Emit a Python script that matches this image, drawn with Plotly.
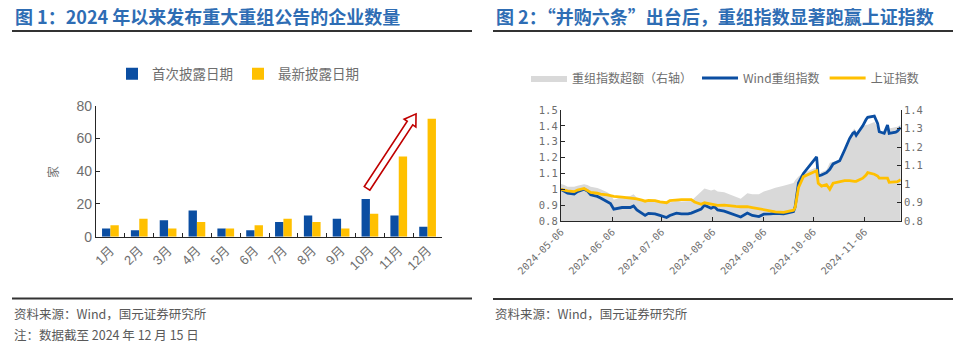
import math
import plotly.graph_objects as go

W, H = 954, 357

# ---------------- data: chart 1 ----------------
months = ["1月", "2月", "3月", "4月", "5月", "6月", "7月", "8月", "9月", "10月", "11月", "12月"]
first_disclosure = [5, 4, 10, 16, 5, 4, 9, 13, 11, 23, 13, 6]
latest_disclosure = [7, 11, 5, 9, 5, 7, 11, 9, 5, 14, 49, 72]

# ---------------- data: chart 2 ----------------
dates = [
    "2024-05-06", "2024-05-08", "2024-05-10", "2024-05-14", "2024-05-16", "2024-05-20",
    "2024-05-22", "2024-05-24", "2024-05-28", "2024-05-30", "2024-06-03", "2024-06-05",
    "2024-06-07", "2024-06-12", "2024-06-17", "2024-06-19", "2024-06-21", "2024-06-24",
    "2024-06-26", "2024-06-28", "2024-07-02", "2024-07-05", "2024-07-09", "2024-07-11",
    "2024-07-15", "2024-07-18", "2024-07-22", "2024-07-24", "2024-07-26", "2024-07-30",
    "2024-08-01", "2024-08-05", "2024-08-07", "2024-08-09", "2024-08-13", "2024-08-16",
    "2024-08-20", "2024-08-23", "2024-08-27", "2024-08-30", "2024-09-03", "2024-09-06",
    "2024-09-10", "2024-09-13", "2024-09-18", "2024-09-20", "2024-09-24", "2024-09-25",
    "2024-09-26", "2024-09-27", "2024-09-30", "2024-10-08", "2024-10-09", "2024-10-11",
    "2024-10-14", "2024-10-16", "2024-10-18", "2024-10-22", "2024-10-25", "2024-10-28",
    "2024-10-30", "2024-10-31", "2024-11-01", "2024-11-05", "2024-11-07", "2024-11-08",
    "2024-11-12", "2024-11-14", "2024-11-15", "2024-11-18", "2024-11-20", "2024-11-21",
    "2024-11-25", "2024-11-26", "2024-11-28",
]
wind_restructure = [
    1.000, 0.990, 0.975, 0.970, 0.985, 1.000,
    0.990, 0.965, 0.955, 0.945, 0.925, 0.910,
    0.875, 0.885, 0.885, 0.895, 0.870, 0.850,
    0.835, 0.848, 0.845, 0.835, 0.822, 0.835,
    0.850, 0.845, 0.845, 0.850, 0.858, 0.875,
    0.900, 0.880, 0.890, 0.870, 0.862, 0.850,
    0.835, 0.825, 0.850, 0.835, 0.828, 0.843,
    0.845, 0.848, 0.845, 0.850, 0.860, 0.890,
    0.975, 1.040, 1.100, 1.205, 1.084, 1.090,
    1.105, 1.126, 1.160, 1.180, 1.248, 1.320,
    1.353, 1.360, 1.340, 1.400, 1.440, 1.454,
    1.462, 1.416, 1.363, 1.353, 1.405, 1.353,
    1.360, 1.366, 1.390,
]
sse_index = [
    1.000, 0.995, 0.990, 0.985, 0.995, 1.005,
    0.995, 0.980, 0.975, 0.970, 0.965, 0.960,
    0.955, 0.950, 0.945, 0.945, 0.940, 0.932,
    0.925, 0.930, 0.928, 0.920, 0.915, 0.928,
    0.933, 0.935, 0.935, 0.935, 0.920, 0.905,
    0.915, 0.905, 0.900, 0.898, 0.900, 0.895,
    0.892, 0.890, 0.890, 0.885, 0.878, 0.870,
    0.862, 0.858, 0.855, 0.858, 0.868, 0.885,
    0.955, 1.010, 1.080, 1.117, 1.038, 1.020,
    1.030, 1.000, 1.038, 1.050, 1.055, 1.055,
    1.050, 1.050, 1.050, 1.070, 1.090, 1.105,
    1.095, 1.084, 1.070, 1.070, 1.070, 1.044,
    1.044, 1.048, 1.060,
]
excess_ratio = [
    1.000, 0.995, 0.985, 0.985, 0.990, 0.998,
    0.995, 0.985, 0.978, 0.972, 0.955, 0.945,
    0.915, 0.930, 0.935, 0.945, 0.925, 0.910,
    0.905, 0.912, 0.910, 0.905, 0.898, 0.900,
    0.910, 0.905, 0.905, 0.908, 0.925, 0.955,
    0.975, 0.965, 0.970, 0.960, 0.955, 0.945,
    0.930, 0.920, 0.950, 0.945, 0.945, 0.960,
    0.970, 0.980, 0.990, 0.995, 1.005, 1.020,
    1.030, 1.040, 1.060, 1.090, 1.050, 1.065,
    1.075, 1.115, 1.120, 1.130, 1.185, 1.250,
    1.290, 1.300, 1.280, 1.310, 1.320, 1.320,
    1.335, 1.310, 1.280, 1.275, 1.315, 1.300,
    1.305, 1.310, 1.320,
]
date_ticks = ["2024-05-06", "2024-06-06", "2024-07-06", "2024-08-06",
              "2024-09-06", "2024-10-06", "2024-11-06"]

# ---------------- styling ----------------
BLUE = "#0B4EA2"
YELLOW = "#FFC000"
GREY_FILL = "#D9D9D9"
AXIS = "#262626"
TXT = "#6E6E6E"
TITLE = "#2E6DB4"
CJK = "Noto Sans CJK SC"
MONO = "DejaVu Sans Mono"

# plot-area pixel boxes
L_X0, L_X1, L_TOP, L_BOT = 96, 442, 105.7, 236.7
R_X0, R_X1, R_TOP, R_BOT = 561, 900.7, 110, 221


def xdom(a, b):
    return [a / W, b / W]


def ydom(top, bot):
    return [1 - bot / H, 1 - top / H]


fig = go.Figure()

fig.add_trace(go.Bar(x=months, y=first_disclosure, name="首次披露日期",
                     marker=dict(color=BLUE, line=dict(width=0)),
                     xaxis="x", yaxis="y", legend="legend"))
fig.add_trace(go.Bar(x=months, y=latest_disclosure, name="最新披露日期",
                     marker=dict(color=YELLOW, line=dict(width=0)),
                     xaxis="x", yaxis="y", legend="legend"))

fig.add_trace(go.Scatter(x=dates, y=excess_ratio, name="重组指数超额（右轴）",
                         mode="lines", line=dict(width=0, color=GREY_FILL),
                         fill="tozeroy", fillcolor=GREY_FILL,
                         xaxis="x2", yaxis="y2", legend="legend2"))
fig.add_trace(go.Scatter(x=dates, y=wind_restructure, name="Wind重组指数",
                         mode="lines", line=dict(width=2.8, color=BLUE),
                         xaxis="x2", yaxis="y3", legend="legend2"))
fig.add_trace(go.Scatter(x=dates, y=sse_index, name="上证指数",
                         mode="lines", line=dict(width=2.8, color=YELLOW),
                         xaxis="x2", yaxis="y3", legend="legend2"))

axis_common = dict(showline=True, linecolor=AXIS, linewidth=1.3, ticks="inside",
                   ticklen=4, tickcolor=AXIS, showgrid=False, zeroline=False,
                   automargin=False)

fig.update_layout(
    width=W, height=H, autosize=False,
    margin=dict(l=0, r=0, t=0, b=0, pad=0, autoexpand=False),
    paper_bgcolor="white", plot_bgcolor="rgba(0,0,0,0)",
    font=dict(family=CJK, color=TXT),
    barmode="group", bargap=0.42, bargroupgap=0,
    showlegend=True,
    xaxis=dict(domain=xdom(L_X0, L_X1), anchor="y", type="category",
               tickson="boundaries", tickangle=-45,
               tickfont=dict(family="Liberation Sans, " + CJK, size=13, color=TXT),
               **axis_common),
    yaxis=dict(domain=ydom(L_TOP, L_BOT), anchor="x", range=[0, 80], dtick=20,
               tickfont=dict(family="Liberation Sans", size=14, color=TXT),
               **axis_common),
    xaxis2=dict(domain=xdom(R_X0, R_X1), anchor="y2", type="date",
                range=[dates[0], dates[-1]], tickvals=date_ticks, ticktext=date_ticks,
                tickangle=-45, tickfont=dict(family=MONO, size=10, color=TXT),
                **axis_common),
    yaxis2=dict(domain=ydom(R_TOP, R_BOT), anchor="x2", side="right",
                range=[0.8, 1.4], dtick=0.1,
                tickfont=dict(family=MONO, size=10.5, color=TXT), **axis_common),
    yaxis3=dict(overlaying="y2", anchor="x2", side="left",
                range=[0.8, 1.5], dtick=0.1,
                tickfont=dict(family=MONO, size=10.5, color=TXT), **axis_common),
    legend=dict(orientation="h", x=238 / W, y=1 - 74 / H, xanchor="center",
                yanchor="middle", font=dict(family=CJK, size=13.5, color=TXT),
                bgcolor="rgba(0,0,0,0)", itemwidth=30),
    legend2=dict(orientation="h", x=725 / W, y=1 - 78 / H, xanchor="center",
                 yanchor="middle", font=dict(family=CJK, size=12, color=TXT),
                 bgcolor="rgba(0,0,0,0)", itemwidth=36),
)

# ---------------- titles, notes, rules ----------------
ann = []
ann.append(dict(text="<b>图 1：2024 年以来发布重大重组公告的企业数量</b>", x=13 / W, y=1 - 16 / H,
                xref="paper", yref="paper", xanchor="left", yanchor="middle", showarrow=False,
                font=dict(family=CJK, size=18, color=TITLE)))
ann.append(dict(text="<b>图 2：“并购六条”出台后，重组指数显著跑赢上证指数</b>", x=494 / W, y=1 - 16 / H,
                xref="paper", yref="paper", xanchor="left", yanchor="middle", showarrow=False,
                font=dict(family=CJK, size=18, color=TITLE)))
ann.append(dict(text="资料来源：Wind，国元证券研究所", x=12 / W, y=1 - 313 / H,
                xref="paper", yref="paper", xanchor="left", yanchor="middle", showarrow=False,
                font=dict(family=CJK, size=12.5, color="#595959")))
ann.append(dict(text="注：数据截至 2024 年 12 月 15 日", x=12 / W, y=1 - 334 / H,
                xref="paper", yref="paper", xanchor="left", yanchor="middle", showarrow=False,
                font=dict(family=CJK, size=12.5, color="#595959")))
ann.append(dict(text="资料来源：Wind，国元证券研究所", x=493 / W, y=1 - 313 / H,
                xref="paper", yref="paper", xanchor="left", yanchor="middle", showarrow=False,
                font=dict(family=CJK, size=12.5, color="#595959")))
ann.append(dict(text="家", x=52 / W, y=1 - 172 / H, textangle=-90,
                xref="paper", yref="paper", xanchor="center", yanchor="middle", showarrow=False,
                font=dict(family=CJK, size=12, color=TXT)))
fig.update_layout(annotations=ann)

shapes = []
for (a, b, yy) in [(12, 472, 31), (493, 953, 31), (12, 472, 298.5), (493, 953, 299)]:
    shapes.append(dict(type="line", xref="paper", yref="paper",
                       x0=a / W, x1=b / W, y0=1 - yy / H, y1=1 - yy / H,
                       line=dict(color="#333333", width=2.2)))

# hollow red arrow on chart 1 (from near the 10月 bars up toward 12月)
cw = (L_X1 - L_X0) / len(months)
ppu = (L_BOT - L_TOP) / 80.0


def bar_px(idx, val):
    return L_X0 + (idx + 0.5) * cw, L_BOT - val * ppu


sx, sy = bar_px(8.9, 29.5)
tx, ty = bar_px(10.6, 75)
L = math.hypot(tx - sx, ty - sy)
dx, dy = (tx - sx) / L, (ty - sy) / L
nx, ny = -dy, dx
w, hw, hl = 3.3, 7.0, 11.0
bx, by = sx + dx * (L - hl), sy + dy * (L - hl)
pts = [
    (sx + nx * w, sy + ny * w),
    (bx + nx * w, by + ny * w),
    (bx + nx * hw, by + ny * hw),
    (tx, ty),
    (bx - nx * hw, by - ny * hw),
    (bx - nx * w, by - ny * w),
    (sx - nx * w, sy - ny * w),
]
path = "M " + " L ".join(f"{px / W:.5f},{1 - py / H:.5f}" for px, py in pts) + " Z"
shapes.append(dict(type="path", xref="paper", yref="paper", path=path,
                   fillcolor="white", line=dict(color="#C00000", width=1.6)))
fig.update_layout(shapes=shapes)

fig.write_html("out.html")
